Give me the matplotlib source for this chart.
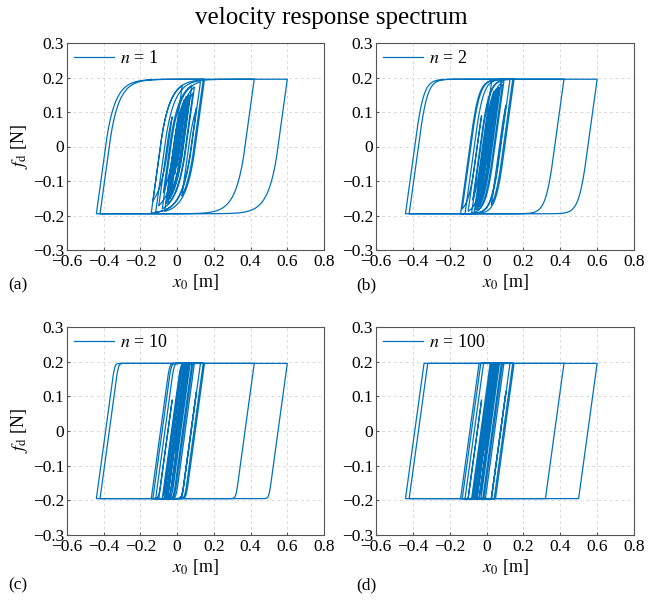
import numpy as np
import matplotlib
matplotlib.use("Agg")
import matplotlib.pyplot as plt
from matplotlib.ticker import FuncFormatter

plt.rcParams['font.family'] = ['Liberation Serif', 'DejaVu Serif']
plt.rcParams['mathtext.fontset'] = 'stix'
plt.rcParams['axes.unicode_minus'] = True

# ---- data ----
# Bouc-Wen exponents shown in the four panels
n_values = [1, 2, 10, 100]
panel_tags = ['(a)', '(b)', '(c)', '(d)']
# displacement reversal points x0 [m]
reversals = [0.0, 0.06, -0.054, 0.094, -0.081, 0.127, -0.141, 0.142, 0.026, 0.105,
             -0.117, 0.60, -0.44, 0.42, -0.42, 0.149, -0.068, 0.04, -0.10, -0.027,
             -0.132, 0.028, -0.075, 0.08, -0.04, 0.07, -0.06, 0.05, -0.014, 0.086,
             -0.05, 0.065, -0.03, 0.045, 0.0]
F_yield = 0.195   # N, saturation force
x_yield = 0.05    # m, yield displacement
xticks = [-0.6, -0.4, -0.2, 0, 0.2, 0.4, 0.6, 0.8]
yticks = [-0.3, -0.2, -0.1, 0, 0.1, 0.2, 0.3]

color = '#0072BD'


def path_from_reversals(rev, step=0.0004):
    xs = [rev[0]]
    for a, b in zip(rev[:-1], rev[1:]):
        m = max(2, int(abs(b - a) / step))
        xs.extend(np.linspace(a, b, m + 1)[1:])
    return np.array(xs)


def bouc_wen(x, n, beta=0.5, gamma=0.5, sub=20):
    z = 0.0
    zs = [z]
    for i in range(1, len(x)):
        dx = (x[i] - x[i - 1]) / sub
        for _ in range(sub):
            dz = dx / x_yield * (1 - abs(z) ** n * (gamma * np.sign(dx * z) + beta))
            z = min(1.0, max(-1.0, z + dz))
        zs.append(z)
    return F_yield * np.array(zs)


x_path = path_from_reversals(reversals)

fig = plt.figure(figsize=(6.62, 6.01), dpi=100)
W, H = 662, 601
boxes = [(67, 43, 324, 250), (376, 43, 634, 250), (67, 327, 324, 535), (376, 327, 634, 535)]


def fmt(v, _):
    if abs(v) < 1e-9:
        return '0'
    return ('%.1f' % v).replace('-', '\u2212')


for k, (n, tag, (l, t, r, b)) in enumerate(zip(n_values, panel_tags, boxes)):
    ax = fig.add_axes([l / W, (H - b) / H, (r - l) / W, (b - t) / H])
    fd = bouc_wen(x_path, n)
    ax.plot(x_path, fd, color=color, lw=0.9, label=r'$n$ = %d' % n)
    ax.set_xlim(-0.6, 0.8)
    ax.set_ylim(-0.3, 0.3)
    ax.set_xticks(xticks)
    ax.set_yticks(yticks)
    ax.xaxis.set_major_formatter(FuncFormatter(fmt))
    ax.yaxis.set_major_formatter(FuncFormatter(fmt))
    ax.tick_params(direction='in', length=2.5, labelsize=12.5, color='#555555', pad=2)
    ax.tick_params(axis='x', pad=3)
    ax.grid(True, linestyle=(0, (3, 3)), color='#d9d9d9', lw=0.7)
    ax.set_axisbelow(True)
    for s in ax.spines.values():
        s.set_color('#555555')
        s.set_linewidth(0.8)
    ax.set_xlabel(r'$x_0$ [m]', fontsize=13, labelpad=1)
    if k % 2 == 0:
        ax.set_ylabel(r'$f_\mathrm{d}$ [N]', fontsize=13)
        ax.yaxis.set_label_coords((30 - l) / (r - l), 0.5)
    ax.legend(loc='upper left', frameon=False, fontsize=13, handlelength=2.2,
              borderaxespad=0.0, handletextpad=0.35, borderpad=0.4)
    tx = 8 if k % 2 == 0 else 356
    ty = 293 if k < 2 else 593
    fig.text(tx / W, (H - ty) / H, tag, fontsize=12.5, ha='left', va='bottom')

fig.text(0.5, (H - 18) / H, 'velocity response spectrum', fontsize=18, ha='center', va='center')

fig.savefig('out.png', dpi=100)
